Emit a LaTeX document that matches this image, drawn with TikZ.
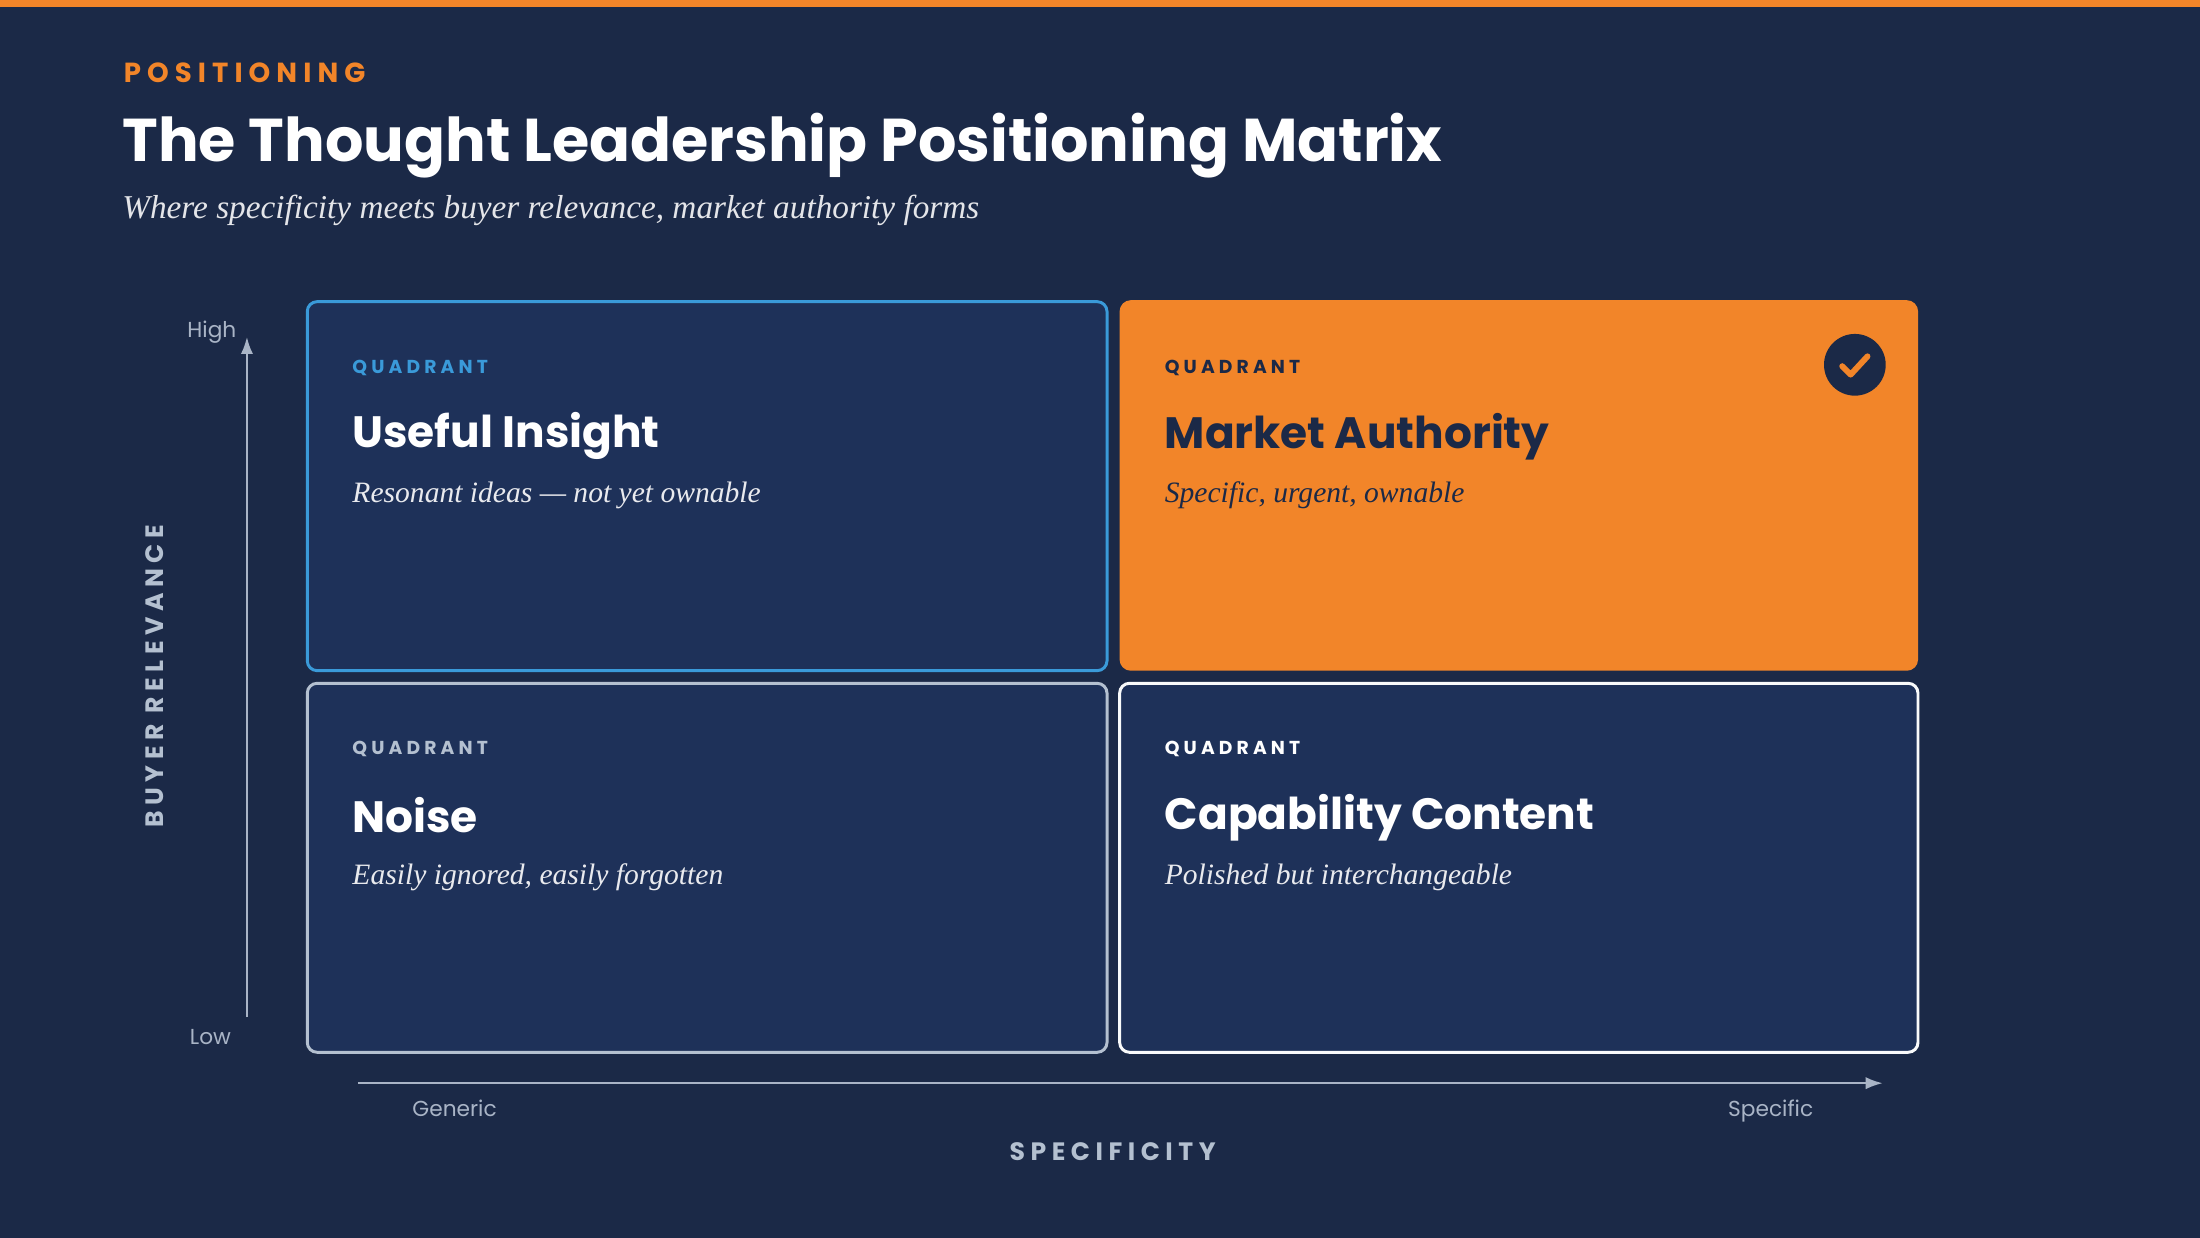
\documentclass[tikz,border=0pt]{standalone}
\usepackage{fontspec}
\setmainfont{Liberation Serif}
\newfontfamily\pop{Poppins}
\newfontfamily\popsp[LetterSpace=22]{Poppins}
\usetikzlibrary{positioning,arrows.meta}
\definecolor{bgnavy}{HTML}{1B2947}
\definecolor{boxnavy}{HTML}{1E3159}
\definecolor{accent}{HTML}{F28529}
\definecolor{skyblue}{HTML}{3A9AD9}
\definecolor{edgegray}{HTML}{B4C0D0}
\definecolor{mutedtxt}{HTML}{A9B4C6}
\tikzset{
  quad/.style={rounded corners=4pt, line width=1.2pt},
  tag/.style={anchor=west, font=\popsp\bfseries\fontsize{7.6}{9}\selectfont},
  head/.style={anchor=west, font=\pop\bfseries\fontsize{17.8}{22}\selectfont},
  sub/.style={anchor=west, font=\itshape\fontsize{12}{14}\selectfont},
  axtxt/.style={text=mutedtxt, text depth=0.05cm, font=\pop\fontsize{8.8}{10}\selectfont},
  axname/.style={text=edgegray, font=\popsp\bfseries\fontsize{10.2}{12}\selectfont},
  axarrow/.style={-{Latex[length=7pt,width=5pt]}, mutedtxt, line width=1pt}
}
\begin{document}
\begin{tikzpicture}[x=0.02cm, y=-0.02cm]
	\fill [bgnavy] (0,0) rectangle (1568,882);
	\useasboundingbox (0,0) rectangle (1568,882);
	\fill [accent] (0,0) rectangle (1568,5);
	\node [anchor=west, text=accent, font=\popsp\bfseries\fontsize{11.2}{13}\selectfont] (kicker) at (82,52) {POSITIONING};
	\node [anchor=west, text=white, font=\pop\bfseries\fontsize{24.5}{30}\selectfont] (title) at (81,104) {The Thought Leadership Positioning Matrix};
	\node [anchor=west, text=white!88!bgnavy, font=\itshape\fontsize{13.5}{16}\selectfont] (subtitle) at (81,150) {Where specificity meets buyer relevance, market authority forms};
	% quadrants
	\draw [quad, draw=skyblue, fill=boxnavy] (219,215) rectangle (789,478);
	\draw [quad, draw=accent, fill=accent] (799,215) rectangle (1366,477);
	\draw [quad, draw=edgegray, fill=boxnavy] (219,487) rectangle (789,750);
	\draw [quad, draw=white!92!edgegray, fill=boxnavy] (798,487) rectangle (1367,750);
	\node [tag, text=skyblue] (tagUI) at (245,262) {QUADRANT};
	\node [head, text=white] (useful) at (245,311) {Useful Insight};
	\node [sub, text=white!90!boxnavy] (usefulsub) at (245,353) {Resonant ideas — not yet ownable};
	\node [tag, text=bgnavy] (tagMA) at (824,262) {QUADRANT};
	\node [head, text=bgnavy] (market) at (824,311) {Market Authority};
	\node [sub, text=bgnavy] (marketsub) at (824,353) {Specific, urgent, ownable};
	\node [tag, text=edgegray] (tagNO) at (245,534) {QUADRANT};
	\node [head, text=white] (noise) at (245,581) {Noise};
	\node [sub, text=white!90!boxnavy] (noisesub) at (245,625) {Easily ignored, easily forgotten};
	\node [tag, text=white] (tagCC) at (824,534) {QUADRANT};
	\node [head, text=white] (capab) at (824,583) {Capability Content};
	\node [sub, text=white!90!boxnavy] (capabsub) at (824,625) {Polished but interchangeable};
	% check badge
	\node [circle, fill=bgnavy, minimum size=0.88cm, inner sep=0pt] (badge) at (1322,260) {};
	\draw [accent, line width=2.4pt, line cap=round, line join=round] ([shift={(-9,1)}]badge.center) -- ([shift={(-3,7)}]badge.center) -- ([shift={(9,-6)}]badge.center);
	% axes
	\coordinate (ylow) at (176,725);
	\coordinate (yhigh) at (176,240);
	\draw [axarrow] (ylow) -- (yhigh);
	\node [axtxt] (high) at (151,236) {High};
	\node [axtxt] (low) at (150,740) {Low};
	\node [axname, rotate=90] (relevance) at (110,482) {BUYER RELEVANCE};
	\coordinate (xleft) at (255,772);
	\coordinate (xright) at (1342,772);
	\draw [axarrow] (xleft) -- (xright);
	\node [axtxt] (generic) at (324,791) {Generic};
	\node [axtxt] (specific) at (1262,791) {Specific};
	\node [axname] (specificity) at (793,821) {SPECIFICITY};
\end{tikzpicture}
\end{document}
